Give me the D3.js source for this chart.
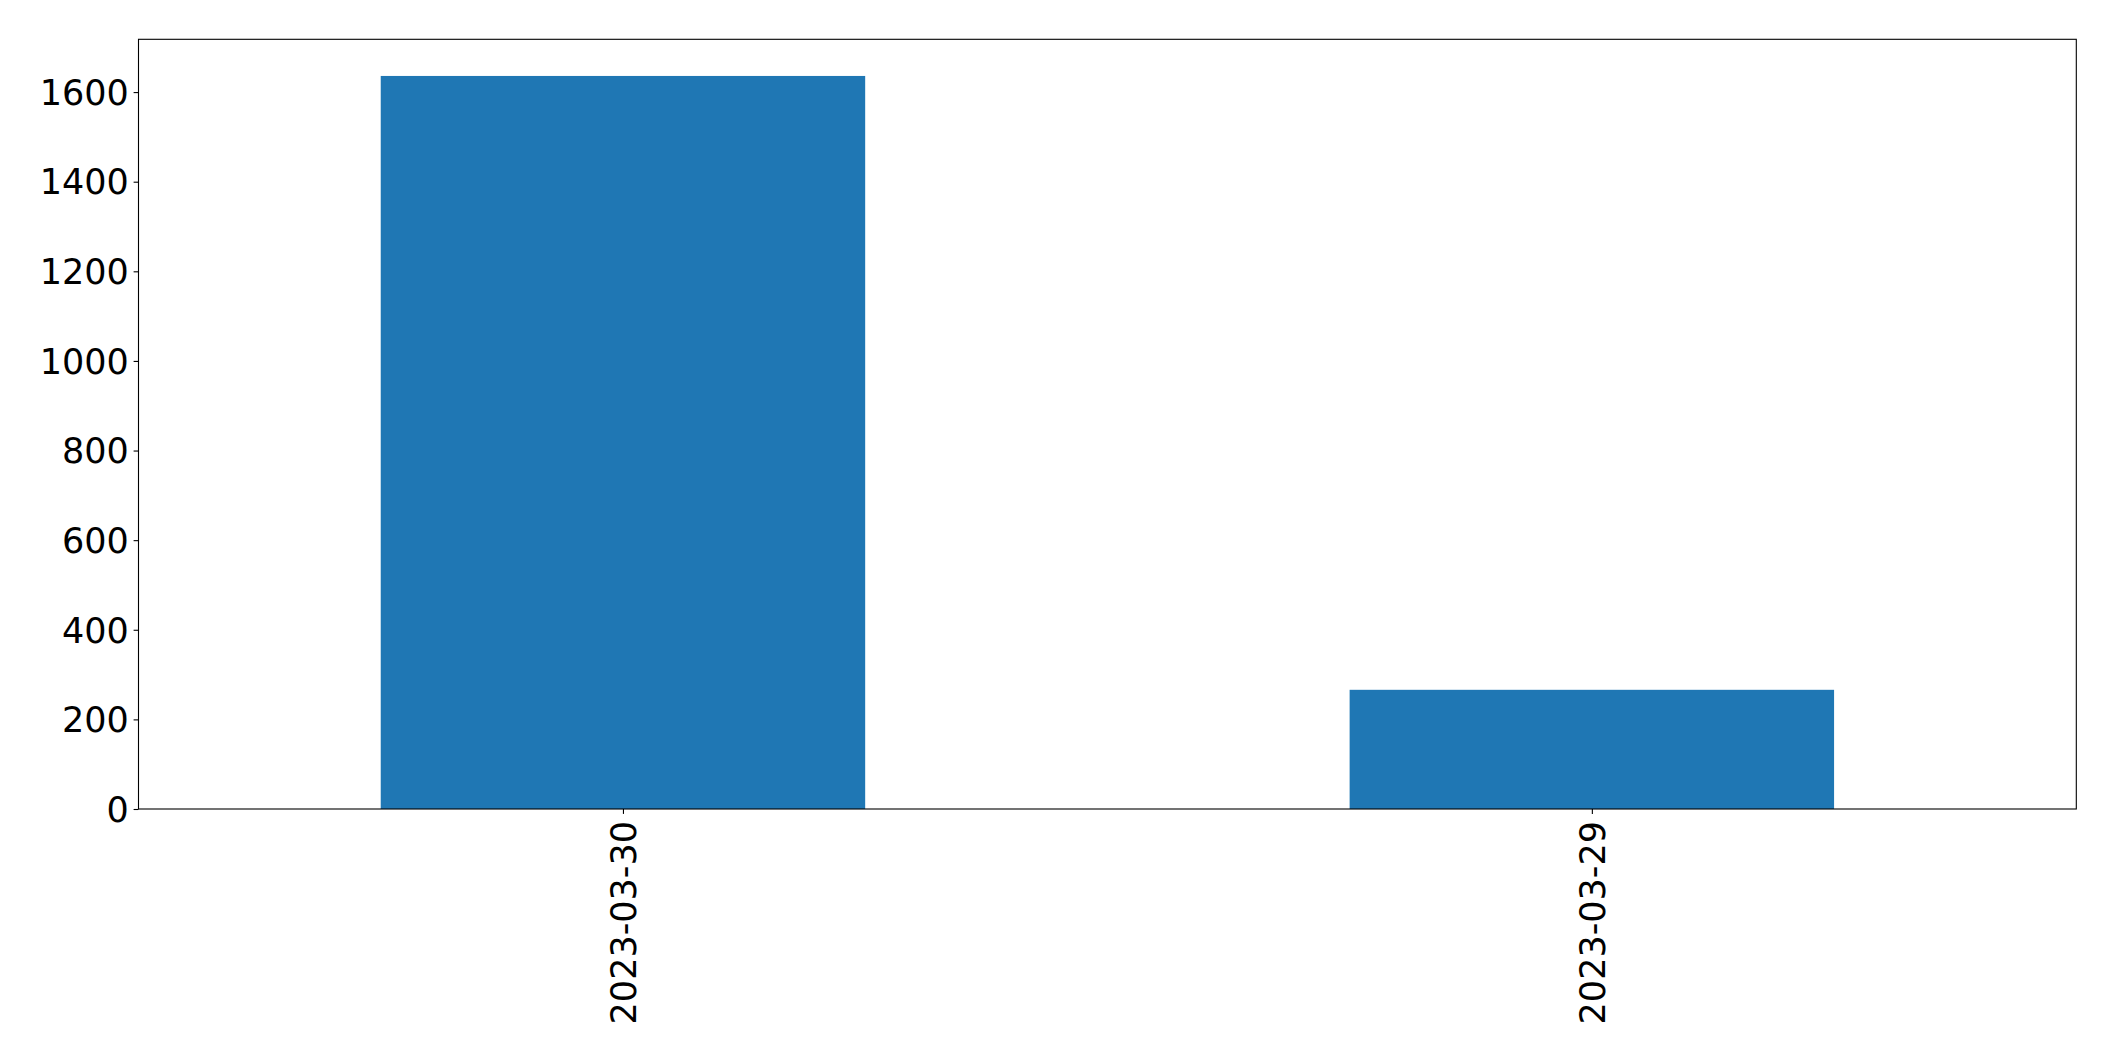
<!DOCTYPE html>
<html>
<head>
<meta charset="utf-8">
<script src="https://cdn.jsdelivr.net/npm/d3@7"></script>
<style>
  html, body { margin: 0; padding: 0; background: #fff; }
  svg { display: block; }
  text { font-family: "DejaVu Sans", sans-serif; fill: #000; }
</style>
</head>
<body>
<script>
const categories = ["2023-03-30", "2023-03-29"];
const values = [1636, 266];
const yTicks = [0, 200, 400, 600, 800, 1000, 1200, 1400, 1600];

const W = 2115, H = 1061;
const margin = { left: 138.5, right: W - 2076.3, top: 39.3, bottom: H - 809 };
const iw = W - margin.left - margin.right;
const ih = H - margin.top - margin.bottom;

const svg = d3.select("body").append("svg").attr("width", W).attr("height", H);
const g = svg.append("g").attr("transform", `translate(${margin.left},${margin.top})`);

const x = d3.scaleLinear().domain([-0.5, categories.length - 0.5]).range([0, iw]);
const y = d3.scaleLinear().domain([0, d3.max(values) * 1.05]).range([ih, 0]);
const barW = 0.5;

g.selectAll("rect.bar").data(values).enter().append("rect")
  .attr("class", "bar")
  .attr("x", (d, i) => x(i - barW / 2))
  .attr("width", (d, i) => x(i + barW / 2) - x(i - barW / 2))
  .attr("y", d => y(d))
  .attr("height", d => y(0) - y(d))
  .attr("fill", "#1f77b4");

// Y axis
const yAxis = d3.axisLeft(y).tickValues(yTicks).tickSize(4.9).tickPadding(4.9).tickFormat(d3.format("d"));
const yg = g.append("g").call(yAxis);
yg.select(".domain").remove();
yg.selectAll(".tick line").attr("stroke", "#000").attr("stroke-width", 1.1);
yg.selectAll(".tick text").style("font-size", "35px").attr("dy", "0.35em");

// X axis
const xAxis = d3.axisBottom(x).tickValues(categories.map((c, i) => i))
  .tickFormat((d) => categories[d]).tickSize(4.9).tickPadding(0);
const xg = g.append("g").attr("transform", `translate(0,${ih})`).call(xAxis);
xg.select(".domain").remove();
xg.selectAll(".tick line").attr("stroke", "#000").attr("stroke-width", 1.1);
xg.selectAll(".tick text")
  .style("font-size", "35px")
  .attr("text-anchor", "end")
  .attr("transform", "translate(0,12) rotate(-90)")
  .attr("x", 0).attr("y", 0)
  .attr("dy", "0.35em");

// Frame
g.append("rect").attr("x", 0).attr("y", 0).attr("width", iw).attr("height", ih)
  .attr("fill", "none").attr("stroke", "#000").attr("stroke-width", 1.1);
</script>
</body>
</html>
